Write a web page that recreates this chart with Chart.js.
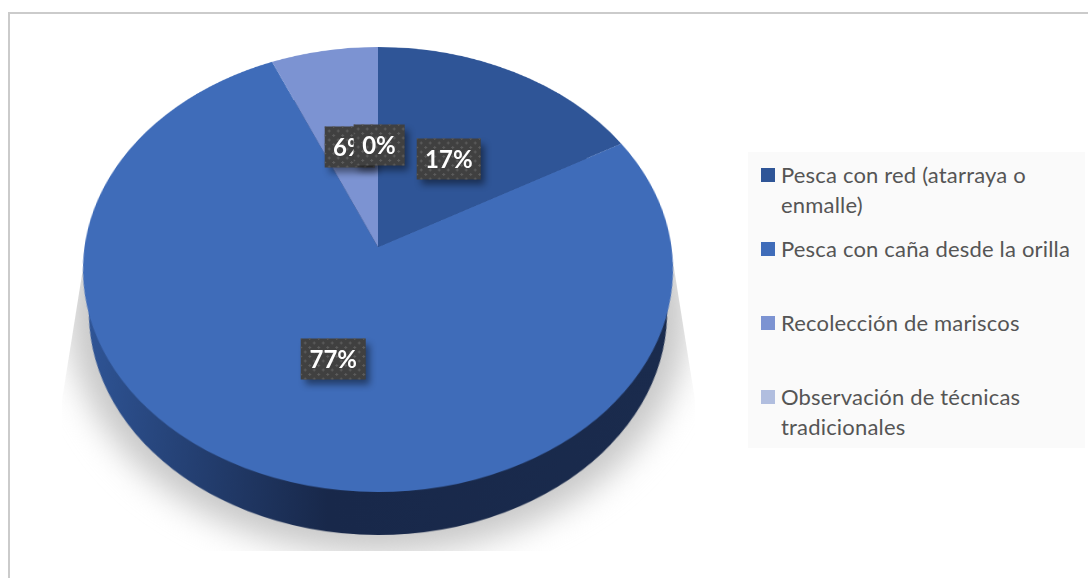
<!DOCTYPE html>
<html>
<head>
<meta charset="utf-8">
<script src="https://cdn.jsdelivr.net/npm/chart.js@4"></script>
<style>
  html, body { margin: 0; padding: 0; background: #fff; }
  #page { position: relative; width: 1088px; height: 578px; overflow: hidden; font-family: Lato, sans-serif; }
  #frame { position: absolute; left: 8px; top: 12px; width: 1200px; height: 700px; border: 2px solid #cbcbcb; }
  #shadow-clip { position: absolute; left: 0; top: 0; width: 1088px; height: 578px;
    clip-path: polygon(84px 262px, 62px 400px, 62px 551px, 695px 551px, 695px 400px, 673px 262px); }
  #shadow { position: absolute; left: 68px; top: 72px; width: 620px; height: 482px; border-radius: 50%;
    background: #c8c8c8; filter: blur(16px); }
  canvas.pie { position: absolute; transform-origin: 320px 320px; }
  #legend { position: absolute; left: 748px; top: 152px; width: 337px; height: 296px; background: #fafafa; }
  .item { position: absolute; left: 33px; width: 300px; color: #555; font-size: 22px; line-height: 30px; letter-spacing: 0.18px; }
  .swatch { position: absolute; left: 13px; width: 14px; height: 14px; }
  .label { position: absolute; height: 41px; line-height: 40px; padding: 0 8.5px; color: #fff; font-weight: 700; font-size: 24px;
    transform: translate(-50%, -50%); white-space: nowrap;
    background-color: #404040;
    background-image: radial-gradient(circle, #5c5c5c 1px, transparent 1.3px), radial-gradient(circle, #5c5c5c 1px, transparent 1.3px);
    background-size: 9px 9px; background-position: 0 0, 4.5px 4.5px;
    box-shadow: 4px 5px 7px rgba(0, 0, 0, 0.45); }
</style>
</head>
<body>
<div id="page">
  <div id="frame"></div>
  <div id="shadow-clip"><div id="shadow"></div></div>
  <canvas class="pie" id="pie-side" width="640" height="640"></canvas>
  <canvas class="pie" id="pie-top" width="640" height="640"></canvas>
  <div id="labels"></div>
  <div id="legend"></div>
</div>
<script>
const categories = [
  'Pesca con red (atarraya o enmalle)',
  'Pesca con caña desde la orilla',
  'Recolección de mariscos',
  'Observación de técnicas tradicionales'
];
const shares = [16.8, 76.75, 6.45, 0];
const sliceColors = ['#2f5597', '#3f6cb9', '#7c93d2', '#b1bedf'];

// the pie lies tilted: apex on the page and perspective of the top face
const apexX = 378, apexY = 247, wallDepth = 43;
const sx = 293.5 / 300, sy = 220.2 / 300, persp = -0.1011 / 300;

function tilt(xScale) {
  return 'matrix3d(' + (sx * xScale) + ',0,0,0, 0,' + sy + ',0,' + persp + ', 0,0,1,0, 0,0,0,1)';
}

function place(canvas, y, xScale) {
  canvas.style.left = (apexX - 320) + 'px';
  canvas.style.top = (y - 320) + 'px';
  canvas.style.transform = tilt(xScale);
}

function pieConfig(colors) {
  return {
    type: 'pie',
    data: {
      labels: categories,
      datasets: [{ data: shares, backgroundColor: colors, borderWidth: 0 }]
    },
    options: {
      responsive: false,
      animation: false,
      layout: { padding: 20 },
      plugins: { legend: { display: false }, tooltip: { enabled: false } }
    }
  };
}

// Side wall, a bit narrower than the top so it starts below the widest point
const sideCanvas = document.getElementById('pie-side');
place(sideCanvas, apexY + wallDepth, 0.98);
const wall = sideCanvas.getContext('2d').createLinearGradient(20, 0, 620, 0);
wall.addColorStop(0, '#2f5597');
wall.addColorStop(0.42, '#18284a');
wall.addColorStop(1, '#1a2b4d');
new Chart(sideCanvas, pieConfig(categories.map(() => wall)));

// Top face
const topCanvas = document.getElementById('pie-top');
place(topCanvas, apexY, 1);
const pie = new Chart(topCanvas, pieConfig(sliceColors));

// Data labels, slice centres taken from the chart and run through the tilt
const labelBox = document.getElementById('labels');
const arcs = pie.getDatasetMeta(0).data;
const labelNudgeX = [0, 4.5, 0, 1];
const labelNudgeY = [3, 2, 3, 3];
arcs.forEach((arc, i) => {
  const p = arc.getCenterPoint();
  const px = p.x - 320, py = p.y - 320;
  const w = 1 + persp * py;
  const el = document.createElement('div');
  el.className = 'label';
  el.textContent = Math.round(shares[i]) + '%';
  el.style.left = (apexX + sx * px / w + labelNudgeX[i]) + 'px';
  el.style.top = (apexY + sy * py / w + labelNudgeY[i]) + 'px';
  labelBox.appendChild(el);
});

// Legend
const legend = document.getElementById('legend');
const rowTops = [16, 90, 164, 238];
categories.forEach((name, i) => {
  const sw = document.createElement('div');
  sw.className = 'swatch';
  sw.style.top = rowTops[i] + 'px';
  sw.style.background = sliceColors[i];
  legend.appendChild(sw);
  const item = document.createElement('div');
  item.className = 'item';
  item.style.top = (rowTops[i] - 8) + 'px';
  item.textContent = name;
  legend.appendChild(item);
});
</script>
</body>
</html>
